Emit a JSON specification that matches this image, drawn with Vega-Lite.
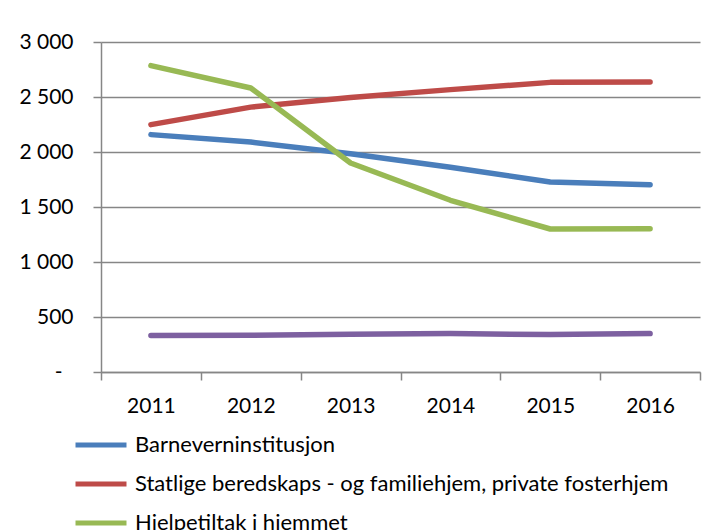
{
  "$schema": "https://vega.github.io/schema/vega-lite/v6.json",
  "width": 599,
  "height": 330,
  "autosize": {"type": "none"},
  "padding": {"left": 101, "top": 42, "right": 12, "bottom": 158},
  "background": "white",
  "config": {
    "view": {"stroke": null},
    "font": "Lato",
    "axis": {"labelFont": "Lato", "labelFontSize": 21, "labelColor": "#000000"},
    "legend": {"labelFont": "Lato", "labelFontSize": 22, "labelColor": "#000000"}
  },
  "data": {
    "values": [
      {"year": "2011", "serie": "Barneverninstitusjon", "value": 2158},
      {"year": "2012", "serie": "Barneverninstitusjon", "value": 2090},
      {"year": "2013", "serie": "Barneverninstitusjon", "value": 1985},
      {"year": "2014", "serie": "Barneverninstitusjon", "value": 1862},
      {"year": "2015", "serie": "Barneverninstitusjon", "value": 1727},
      {"year": "2016", "serie": "Barneverninstitusjon", "value": 1703},
      {"year": "2011", "serie": "Statlige beredskaps - og familiehjem, private fosterhjem", "value": 2249},
      {"year": "2012", "serie": "Statlige beredskaps - og familiehjem, private fosterhjem", "value": 2408},
      {"year": "2013", "serie": "Statlige beredskaps - og familiehjem, private fosterhjem", "value": 2495},
      {"year": "2014", "serie": "Statlige beredskaps - og familiehjem, private fosterhjem", "value": 2567},
      {"year": "2015", "serie": "Statlige beredskaps - og familiehjem, private fosterhjem", "value": 2633},
      {"year": "2016", "serie": "Statlige beredskaps - og familiehjem, private fosterhjem", "value": 2636},
      {"year": "2011", "serie": "Hjelpetiltak i hjemmet", "value": 2785},
      {"year": "2012", "serie": "Hjelpetiltak i hjemmet", "value": 2582},
      {"year": "2013", "serie": "Hjelpetiltak i hjemmet", "value": 1900},
      {"year": "2014", "serie": "Hjelpetiltak i hjemmet", "value": 1561},
      {"year": "2015", "serie": "Hjelpetiltak i hjemmet", "value": 1300},
      {"year": "2016", "serie": "Hjelpetiltak i hjemmet", "value": 1303},
      {"year": "2011", "serie": "Annet", "value": 331},
      {"year": "2012", "serie": "Annet", "value": 334},
      {"year": "2013", "serie": "Annet", "value": 343},
      {"year": "2014", "serie": "Annet", "value": 349},
      {"year": "2015", "serie": "Annet", "value": 340},
      {"year": "2016", "serie": "Annet", "value": 349}
    ]
  },
  "mark": {"type": "line", "strokeWidth": 5.5, "strokeCap": "round", "strokeJoin": "round"},
  "encoding": {
    "x": {
      "field": "year",
      "type": "ordinal",
      "bandPosition": 0.5,
      "scale": {"type": "band", "paddingInner": 0, "paddingOuter": 0},
      "axis": {
        "title": null,
        "labelAngle": 0,
        "tickBand": "extent",
        "grid": false,
        "domainColor": "#868686",
        "domainWidth": 1.5,
        "tickColor": "#868686",
        "tickWidth": 1.5,
        "tickSize": 8,
        "labelPadding": 15,
        "labelBaseline": "top"
      }
    },
    "y": {
      "field": "value",
      "type": "quantitative",
      "scale": {"domain": [0, 3000], "nice": false},
      "axis": {
        "title": null,
        "values": [0, 500, 1000, 1500, 2000, 2500, 3000],
        "labelExpr": "datum.value == 0 ? '-' : replace(format(datum.value, ','), ',', ' ')",
        "grid": true,
        "gridColor": "#868686",
        "gridWidth": 1.5,
        "domainColor": "#868686",
        "domainWidth": 1.5,
        "tickColor": "#868686",
        "tickWidth": 1.5,
        "tickSize": 8,
        "labelPadding": {"condition": {"test": "datum.value == 0", "value": 31}, "value": 20}
      }
    },
    "color": {
      "field": "serie",
      "type": "nominal",
      "sort": null,
      "scale": {
        "domain": ["Barneverninstitusjon", "Statlige beredskaps - og familiehjem, private fosterhjem", "Hjelpetiltak i hjemmet", "Annet"],
        "range": ["#4A7EBB", "#BE4B48", "#98B954", "#7D60A0"]
      },
      "legend": {
        "title": null,
        "orient": "none",
        "legendX": -28,
        "legendY": 375,
        "values": ["Barneverninstitusjon", "Statlige beredskaps - og familiehjem, private fosterhjem", "Hjelpetiltak i hjemmet"],
        "symbolType": "stroke",
        "symbolSize": 2600,
        "symbolStrokeWidth": 5,
        "labelOffset": 6,
        "labelLimit": 0,
        "rowPadding": 0
      }
    }
  }
}
